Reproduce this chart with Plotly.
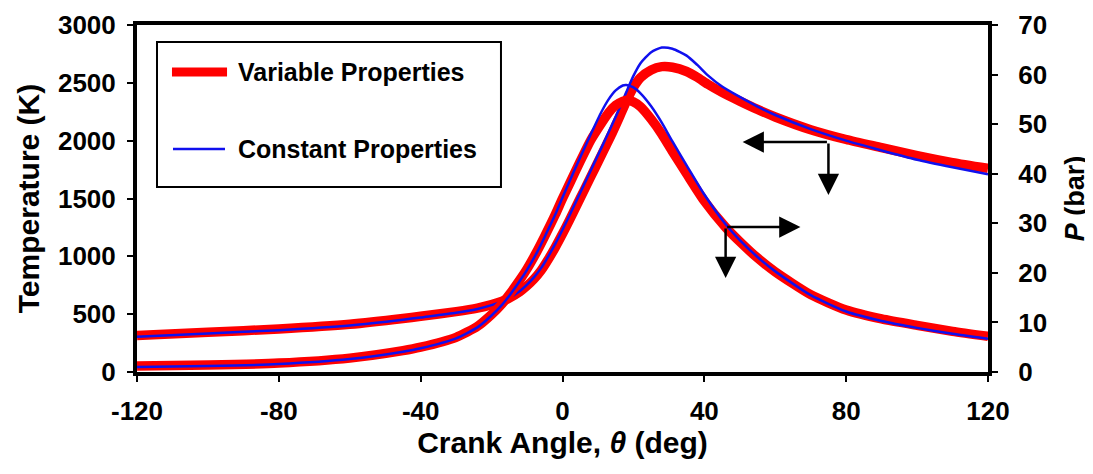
import plotly.graph_objects as go

# ---------------- data ----------------
T_angle = [-120, -100, -80, -60, -45, -40, -30, -24, -20, -17, -15, -12, -10, -8, -6, -4, -2,
           0, 2, 4, 6, 8, 10, 12, 14, 16, 18, 20, 22, 25, 28, 31, 35, 38, 41, 45, 50, 55, 60,
           70, 80, 90, 100, 110, 120]
T_variable = [315, 343, 372, 412, 462, 482, 522, 552, 582, 612, 640, 695, 745, 805, 880, 975, 1080,
              1195, 1315, 1440, 1565, 1690, 1815, 1940, 2065, 2200, 2340, 2460, 2545,
              2612, 2640, 2635, 2598, 2548, 2488, 2418, 2342, 2270, 2205,
              2095, 2010, 1940, 1870, 1810, 1760]
T_constant = [305, 333, 362, 402, 452, 472, 512, 545, 578, 610, 640, 700, 755, 820, 900, 1000, 1110,
              1230, 1355, 1485, 1615, 1745, 1875, 2005, 2140, 2275, 2420, 2560, 2670,
              2765, 2805, 2795, 2735, 2655, 2565, 2468, 2378, 2295, 2222,
              2100, 2000, 1915, 1835, 1770, 1710]

P_angle = [-120, -100, -80, -60, -45, -40, -30, -24, -20, -17, -15, -12, -10, -7, -5, -2, 0, 2, 5, 8, 11,
           13, 15, 17, 18, 20, 22, 25, 28, 31, 35, 40, 46, 50, 55, 60, 70, 80, 90, 100, 110, 120]
P_variable = [1.2, 1.4, 1.8, 2.8, 4.3, 5.0, 7.0, 9.2, 11.6, 13.8, 15.6, 18.6, 20.8, 24.6, 27.4, 31.8, 35.0,
              38.0, 42.5, 46.8, 50.2, 52.3, 53.8, 54.6, 54.8, 54.5, 53.5, 51.0, 48.0, 44.5, 40.0, 34.5,
              29.2, 26.3, 23.0, 20.2, 15.6, 12.5, 10.7, 9.4, 8.2, 7.2]
P_constant = [1.0, 1.2, 1.6, 2.6, 4.1, 4.8, 6.8, 9.0, 11.4, 13.6, 15.4, 18.4, 20.6, 24.4, 27.3, 31.8, 35.2,
              38.5, 43.3, 48.0, 52.5, 55.0, 56.8, 57.8, 57.9, 57.4, 56.2, 53.6, 50.3, 46.5, 41.7, 35.8,
              29.8, 26.6, 23.2, 20.3, 15.5, 12.2, 10.3, 8.9, 7.7, 6.7]

x_ticks = [-120, -80, -40, 0, 40, 80, 120]
x_tick_labels = ["-120", "-80", "-40", "0", "40", "80", "120"]
T_ticks = [0, 500, 1000, 1500, 2000, 2500, 3000]
P_ticks = [0, 10, 20, 30, 40, 50, 60, 70]

series_names = ["Variable Properties", "Constant Properties"]

# ---------------- style ----------------
RED = "#ff0000"
BLUE = "#1010ee"
FONT = "Liberation Sans, Arial, sans-serif"

fig = go.Figure()

fig.add_trace(go.Scatter(x=T_angle, y=T_variable, mode="lines", name=series_names[0],
                         line=dict(color=RED, width=9.5, shape="spline", smoothing=0.6),
                         showlegend=False))
fig.add_trace(go.Scatter(x=P_angle, y=P_variable, mode="lines", name=series_names[0], yaxis="y2",
                         line=dict(color=RED, width=9.5, shape="spline", smoothing=0.6),
                         showlegend=False))
fig.add_trace(go.Scatter(x=T_angle, y=T_constant, mode="lines", name=series_names[1],
                         line=dict(color=BLUE, width=2.5, shape="spline", smoothing=0.6),
                         showlegend=False))
fig.add_trace(go.Scatter(x=P_angle, y=P_constant, mode="lines", name=series_names[1], yaxis="y2",
                         line=dict(color=BLUE, width=2.5, shape="spline", smoothing=0.6),
                         showlegend=False))

tickfont = dict(family=FONT, size=26, color="black", weight="bold")

# the page body adds an 8px offset, so the figure is sized/margined to compensate
fig.update_layout(
    width=1085, height=466,
    margin=dict(l=129, r=105, t=17, b=102),
    paper_bgcolor="white", plot_bgcolor="white",
    xaxis=dict(range=[-120, 120], tickvals=x_ticks, ticktext=x_tick_labels, ticks="outside",
               ticklen=6, tickwidth=1.5, automargin=False,
               tickcolor="black", showline=True, linewidth=4, linecolor="black", mirror=True,
               showgrid=False, zeroline=False, tickfont=tickfont, ticklabelstandoff=7,
               title=dict(text="Crank Angle, <i>θ</i> (deg)", standoff=4,
                          font=dict(family=FONT, size=30, color="black", weight="bold"))),
    yaxis=dict(range=[0, 3000], tickvals=T_ticks, ticks="outside", ticklen=6, tickwidth=1.5,
               tickcolor="black", showline=True, linewidth=4, linecolor="black", mirror=True,
               automargin=False,
               showgrid=False, zeroline=False, tickfont=tickfont, ticklabelstandoff=6,
               title=dict(text="Temperature (K)", standoff=10,
                          font=dict(family=FONT, size=30, color="black", weight="bold"))),
    yaxis2=dict(range=[0, 70], tickvals=P_ticks, overlaying="y", side="right", anchor="x",
                ticks="outside", ticklen=6, tickwidth=1.5, tickcolor="black", showline=True,
                linewidth=4, linecolor="black", showgrid=False, zeroline=False, tickfont=tickfont,
                ticklabelstandoff=15, automargin=False,
                title=dict(text="<i>P</i> (bar)", standoff=20,
                           font=dict(family=FONT, size=27, color="black", weight="bold"))),
)

# ---------------- hand-drawn legend box ----------------
fig.add_shape(type="rect", xref="paper", yref="paper", x0=0.0235, x1=0.4277, y0=0.533, y1=0.951,
              line=dict(color="black", width=2), fillcolor="white", layer="above")
fig.add_shape(type="line", xref="paper", yref="paper", x0=0.0411, x1=0.1058, y0=0.8646, y1=0.8646,
              line=dict(color=RED, width=9), layer="above")
fig.add_shape(type="line", xref="paper", yref="paper", x0=0.0423, x1=0.1034, y0=0.6427, y1=0.6427,
              line=dict(color=BLUE, width=2.5), layer="above")
legend_font = dict(family=FONT, size=25, color="black", weight="bold")
fig.add_annotation(xref="paper", yref="paper", x=0.1165, y=0.8646, text=series_names[0],
                   showarrow=False, xanchor="left", yanchor="middle", font=legend_font)
fig.add_annotation(xref="paper", yref="paper", x=0.1165, y=0.6427, text=series_names[1],
                   showarrow=False, xanchor="left", yanchor="middle", font=legend_font)

# ---------------- axis-indicator arrows ----------------
arrow_style = dict(showarrow=True, arrowhead=2, arrowsize=1.7, arrowwidth=2.5, arrowcolor="black",
                   text="", xref="x", yref="y", axref="x", ayref="y", standoff=0)
# temperature curve -> left axis
fig.add_annotation(x=50.8, y=1988, ax=75.0, ay=1988, **arrow_style)
fig.add_annotation(x=75.0, y=1530, ax=75.0, ay=1988, **arrow_style)
# pressure curve -> right axis
fig.add_annotation(x=67.1, y=1253, ax=46.0, ay=1253, **arrow_style)
fig.add_annotation(x=46.0, y=813, ax=46.0, ay=1253, **arrow_style)

fig.write_html("out.html")
